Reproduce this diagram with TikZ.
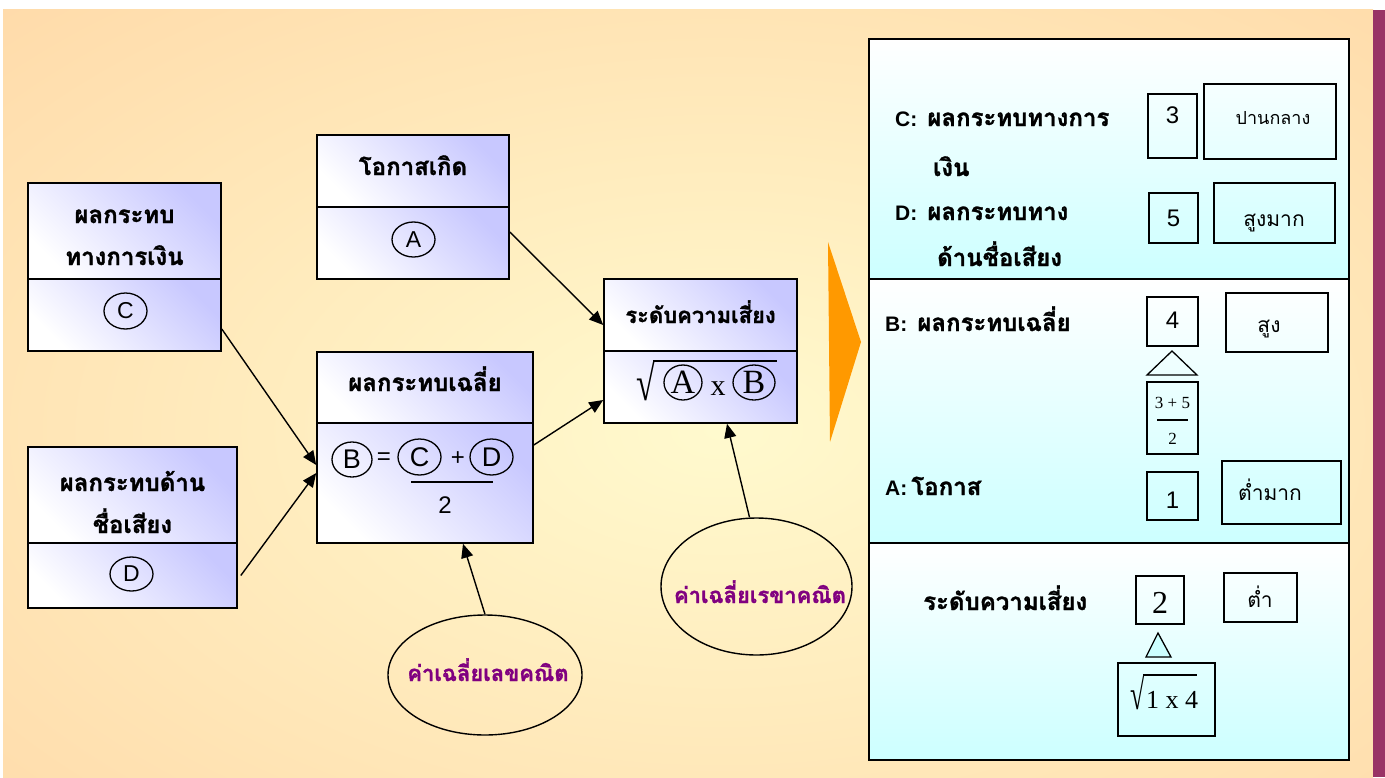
\documentclass[tikz,border=0pt]{standalone}
\usepackage{fontspec}
\usepackage{graphicx}
\usetikzlibrary{shapes.geometric,arrows.meta,calc}
\setmainfont{Liberation Sans}
\newfontfamily\thai[Script=Thai, BoldFeatures={FakeBold=1.3}]{Loma}
\newfontfamily\serf{Liberation Serif}
\newfontfamily\sanf{Liberation Sans}
\definecolor{bgout}{RGB}{255,204,153}
\definecolor{bgin}{RGB}{255,250,206}
\definecolor{lav}{RGB}{200,200,255}
\definecolor{cy}{RGB}{204,255,255}
\definecolor{tri}{RGB}{255,153,0}
\definecolor{purp}{RGB}{128,0,128}
\definecolor{barc}{RGB}{153,51,102}
\newcommand\fs[1]{\fontsize{#1}{#1}\selectfont}
\begin{document}
\begin{tikzpicture}[x=1pt,y=-1pt,
  sec/.style={rectangle, draw=black, line width=1.6pt, inner sep=0pt, top color=lav, bottom color=white, shading angle=-45},
  psec/.style={rectangle, draw=black, line width=1.8pt, inner sep=0pt, top color=white, bottom color=cy},
  sbox/.style={rectangle, draw=black, line width=1.4pt, inner sep=0pt},
  circ/.style={ellipse, draw=black, line width=1.3pt, inner sep=0pt, font=\sanf\fs{23}},
  bigcirc/.style={ellipse, draw=black, line width=1.3pt, inner sep=0pt},
  th/.style={font=\thai\bfseries\fs{24}, inner sep=0pt, anchor=base},
  thl/.style={font=\thai\bfseries\fs{24}, inner sep=0pt, anchor=base west},
  ths/.style={font=\thai\fs{20}, inner sep=0pt, anchor=base},
  num/.style={font=\sanf\fs{24}, inner sep=0pt},
  ell/.style={ellipse, draw=black, line width=1.4pt, inner sep=0pt},
  ellt/.style={font=\thai\bfseries\fs{22}, text=purp, inner sep=0pt, anchor=base},
  arr/.style={line width=1.4pt, -{Triangle[length=14pt,width=12pt]}},
  bar/.style={line width=1.3pt}]
% background
\useasboundingbox (0,0) rectangle (1385,777);
\fill[white] (0,0) rectangle (1385,777);
\begin{scope}
  \clip (3,9) rectangle (1373,777);
  \shade[inner color=bgin, outer color=bgout] (-800,-450) rectangle (2240,1310);
\end{scope}
\fill[barc] (1373,10) rectangle (1385,777);

% box C
\node[sec, minimum width=193pt, minimum height=96pt] (Ct) at (124.5,231) {};
\node[sec, minimum width=193pt, minimum height=72pt] (Cb) at (124.5,315) {};
\node[th] (ct1) at (124.5,223) {ผลกระทบ};
\node[th] (ct2) at (124.5,265) {ทางการเงิน};
\node[circ, minimum width=43pt, minimum height=36pt] (cC) at (125.5,311) {C};

% box D
\node[sec, minimum width=209pt, minimum height=96pt] (Dt) at (132.5,495) {};
\node[sec, minimum width=209pt, minimum height=65pt] (Db) at (132.5,575.5) {};
\node[th] (dt1) at (132.5,491) {ผลกระทบด้าน};
\node[th] (dt2) at (132.5,533) {ชื่อเสียง};
\node[circ, minimum width=43pt, minimum height=34pt] (cD) at (131.5,574) {D};

% box A
\node[sec, minimum width=192pt, minimum height=72pt] (At) at (413,171) {};
\node[sec, minimum width=192pt, minimum height=72pt] (Ab) at (413,243) {};
\node[th] (at1) at (413,175) {โอกาสเกิด};
\node[circ, minimum width=43pt, minimum height=35pt] (cA) at (413.5,239.5) {A};

% box B
\node[sec, minimum width=216pt, minimum height=71pt] (Bt) at (425,387.5) {};
\node[sec, minimum width=216pt, minimum height=120pt] (Bb) at (425,483) {};
\node[th] (bt1) at (425,391) {ผลกระทบเฉลี่ย};
\node[circ, font=\sanf\fs{27}, minimum width=40pt, minimum height=35pt] (fB) at (352,459.5) {B};
\node[font=\sanf\fs{24}, inner sep=0pt] (feq) at (384,459) {=};
\node[circ, font=\sanf\fs{27}, minimum width=43pt, minimum height=36pt] (fC) at (419.5,457) {C};
\node[font=\sanf\fs{24}, inner sep=0pt] (fpl) at (458,459) {+};
\node[circ, font=\sanf\fs{27}, minimum width=43pt, minimum height=36pt] (fD) at (491.5,457) {D};
\coordinate (fl1) at (411,482);
\coordinate (fl2) at (493,482);
\draw[bar] (fl1) -- (fl2);
\node[font=\sanf\fs{24}, inner sep=0pt] (f2) at (445,505) {2};

% risk box
\node[sec, minimum width=193pt, minimum height=72pt] (Rt) at (700.5,315) {};
\node[sec, minimum width=193pt, minimum height=72pt] (Rb) at (700.5,387) {};
\node[th, font=\thai\bfseries\fs{22}] (rt1) at (700.5,323) {ระดับความเสี่ยง};
\node[font=\serf\fs{34}, inner sep=0pt, anchor=north east] (rsq) at (655,361) {\scalebox{1}[1.45]{√}};
\coordinate (ro1) at (653,361);
\coordinate (ro2) at (777,361);
\draw[bar] (ro1) -- (ro2);
\node[bigcirc, font=\serf\fs{34}, minimum width=38pt, minimum height=35pt] (rA) at (683,382.5) {A};
\node[font=\serf\fs{30}, inner sep=0pt, anchor=base] (rx) at (718,395) {x};
\node[bigcirc, font=\serf\fs{34}, minimum width=42pt, minimum height=35pt] (rB) at (754,382.5) {B};

% ellipses
\node[ell, minimum width=194pt, minimum height=120pt] (E1) at (485,675) {};
\node[ellt] (e1t) at (488,681) {ค่าเฉลี่ยเลขคณิต};
\node[ell, minimum width=191pt, minimum height=137pt] (E2) at (756.5,586.5) {};
\node[ellt] (e2t) at (760,603) {ค่าเฉลี่ยเรขาคณิต};

% arrows
\draw[arr] ([yshift=-14pt]Cb.east) -- ([yshift=18pt]Bb.west);
\draw[arr] ([xshift=3pt]Db.east) -- ([yshift=10pt]Bb.west);
\draw[arr] ([yshift=11pt]Ab.east) -- ([yshift=-10pt]Rt.west);
\draw[arr] ([yshift=38pt]Bb.east) -- ([yshift=-13pt]Rb.west);
\draw[arr] (E1.north) -- ([xshift=38pt]Bb.south);
\draw[arr] ([xshift=-7pt]E2.north) -- ([xshift=26.5pt]Rb.south);

% orange triangle
\fill[tri] (828,242) -- (861,342) -- (830,442) -- cycle;

% right panel
\node[psec, minimum width=480pt, minimum height=240pt] (P1) at (1109,159) {};
\node[psec, minimum width=480pt, minimum height=264pt] (P2) at (1109,411) {};
\node[psec, minimum width=480pt, minimum height=217pt] (P3) at (1109,651.5) {};

\node[thl] (lc1) at (895,126) {{\sanf\bfseries\fs{21}C:}\hspace{10pt}ผลกระทบทางการ};
\node[thl] (lc2) at (933,176) {เงิน};
\node[thl] (ld1) at (895,220) {{\sanf\bfseries\fs{21}D:}\hspace{10pt}ผลกระทบทาง};
\node[thl] (ld2) at (937,266) {ด้านชื่อเสียง};
\node[thl] (lb1) at (885,331) {{\sanf\bfseries\fs{21}B:}\hspace{10pt}ผลกระทบเฉลี่ย};
\node[thl] (la1) at (885,495) {{\sanf\bfseries\fs{21}A:}\hspace{4pt}โอกาส};
\node[thl] (lr1) at (923,610) {ระดับความเสี่ยง};

\node[sbox, minimum width=49pt, minimum height=64pt] (n3) at (1172.5,126) {};
\node[num] (t3) at (1172.5,115.5) {3};
\node[sbox, minimum width=132pt, minimum height=75pt] (nPL) at (1270,121.5) {};
\node[ths, font=\thai\fs{18}] (tPL) at (1273,124) {ปานกลาง};
\node[sbox, minimum width=49pt, minimum height=50pt] (n5) at (1173.5,218) {};
\node[num] (t5) at (1173.5,218) {5};
\node[sbox, minimum width=121pt, minimum height=60pt] (nSM) at (1274.5,213) {};
\node[ths, font=\thai\fs{21}] (tSM) at (1274,226) {สูงมาก};

\node[sbox, minimum width=51pt, minimum height=49pt] (n4) at (1172.5,321.5) {};
\node[num] (t4) at (1172.5,320) {4};
\node[sbox, minimum width=102pt, minimum height=59pt] (nS) at (1277,322.5) {};
\node[ths, font=\thai\fs{21}] (tS) at (1269,332) {สูง};
\draw[line width=1.3pt] (1147,375) -- (1172,351) -- (1197,375) -- cycle;
\node[sbox, minimum width=51pt, minimum height=72pt] (nF) at (1172.5,418) {};
\node[font=\serf\fs{17}, inner sep=0pt] (tF1) at (1172.5,403) {3 + 5};
\coordinate (fr1) at (1157,420);
\coordinate (fr2) at (1188,420);
\draw[line width=1.3pt] (fr1) -- (fr2);
\node[font=\serf\fs{17}, inner sep=0pt] (tF2) at (1172.5,439) {2};
\node[sbox, minimum width=51pt, minimum height=48pt] (n1) at (1172.5,496) {};
\node[num] (t1) at (1172.5,500) {1};
\node[sbox, minimum width=119pt, minimum height=63pt] (nTM) at (1281.5,492.5) {};
\node[ths, font=\thai\fs{21}] (tTM) at (1270,500) {ต่ำมาก};

\node[sbox, minimum width=48pt, minimum height=48pt] (n2) at (1160,600) {};
\node[font=\serf\fs{32}, inner sep=0pt] (t2) at (1160,603) {2};
\node[sbox, minimum width=73pt, minimum height=49pt] (nT) at (1260.5,597.5) {};
\node[ths, font=\thai\fs{21}] (tT) at (1260,607) {ต่ำ};
\filldraw[fill=cy, line width=1.3pt] (1146,657) -- (1158,633) -- (1171,657) -- cycle;
\node[sbox, minimum width=97pt, minimum height=73pt] (nSq) at (1166.5,699.5) {};
\node[font=\serf\fs{26}, inner sep=0pt, anchor=north east] (sq1) at (1145,675) {\scalebox{1}[1.65]{√}};
\coordinate (so1) at (1143,675);
\coordinate (so2) at (1197,675);
\draw[line width=1.3pt] (so1) -- (so2);
\node[font=\serf\fs{26}, inner sep=0pt, anchor=base] (sq2) at (1172,708) {1 x 4};
\end{tikzpicture}
\end{document}
